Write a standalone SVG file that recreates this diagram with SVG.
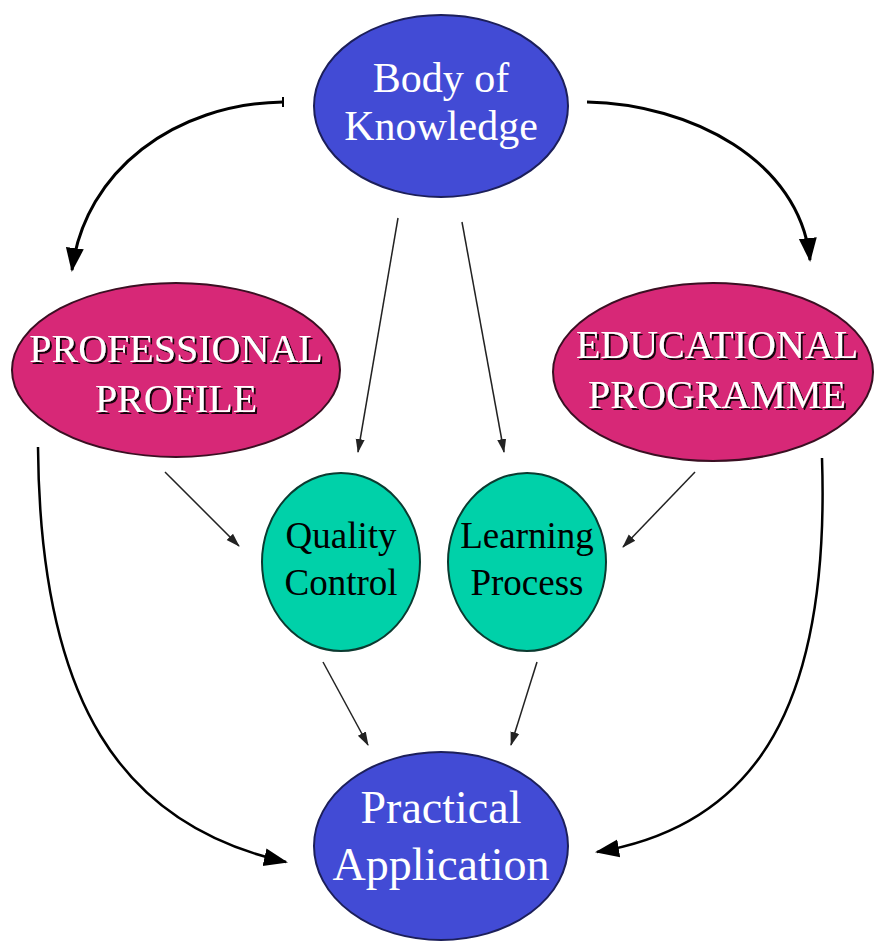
<svg xmlns="http://www.w3.org/2000/svg" width="874" height="943" viewBox="0 0 874 943">
<style>
.blue{fill:#424bd5;stroke:#1c1f5a;stroke-width:2}
.pink{fill:#d72877;stroke:#3a0f22;stroke-width:2}
.teal{fill:#00d1a9;stroke:#0b3a30;stroke-width:2}
.wt{font-family:"Liberation Serif",serif;fill:#ffffff;text-anchor:middle}
.bt{font-family:"Liberation Serif",serif;fill:#000000;text-anchor:middle}
.thick{fill:none;stroke:#000;stroke-width:3}
.thin{fill:none;stroke:#222;stroke-width:1.5}
</style>
<defs>
<marker id="big" markerUnits="userSpaceOnUse" markerWidth="24" markerHeight="24" viewBox="0 0 24 24" refX="22" refY="12" orient="auto">
<path d="M0,3 L24,12 L0,21 Z" fill="#000"/>
</marker>
<marker id="small" markerUnits="userSpaceOnUse" markerWidth="14" markerHeight="12" viewBox="0 0 14 12" refX="13" refY="6" orient="auto">
<path d="M0,1.5 L14,6 L0,10.5 Z" fill="#222"/>
</marker>
<filter id="sh" x="-10%" y="-20%" width="120%" height="140%">
<feDropShadow dx="2" dy="2" stdDeviation="0.4" flood-color="#000" flood-opacity="0.9"/>
</filter>
</defs>
<g id="connectors">
<path class="thick" d="M283,102 C175,104 85,170 72,270" marker-end="url(#big)"/>
<path d="M283,97 L283,107" stroke="#000" stroke-width="2"/>
<path class="thick" d="M587,102 C690,104 800,160 810,260" marker-end="url(#big)"/>
<path class="thin" d="M398,218 L358,452" marker-end="url(#small)"/>
<path class="thin" d="M462,222 L504,452" marker-end="url(#small)"/>
<path class="thin" d="M165,472 L239,546" marker-end="url(#small)"/>
<path class="thin" d="M695,472 L623,547" marker-end="url(#small)"/>
<path class="thin" d="M323,662 L368,745" marker-end="url(#small)"/>
<path class="thin" d="M537,662 L511,745" marker-end="url(#small)"/>
<path class="thick" style="stroke-width:2.5" d="M38,447 C40,700 120,825 286,862" marker-end="url(#big)"/>
<path class="thick" style="stroke-width:2.5" d="M822,458 C830,700 760,825 597,852" marker-end="url(#big)"/>
</g>
<g id="body-of-knowledge">
<ellipse class="blue" cx="441" cy="106" rx="127" ry="91"/>
<text class="wt" x="441" y="92" font-size="42">Body of</text>
<text class="wt" x="441" y="140" font-size="42">Knowledge</text>
</g>
<g id="professional-profile">
<ellipse class="pink" cx="176" cy="370" rx="164" ry="87"/>
<g filter="url(#sh)">
<text class="wt" x="176" y="362" font-size="40">PROFESSIONAL</text>
<text class="wt" x="176" y="412" font-size="40">PROFILE</text>
</g>
</g>
<g id="educational-programme">
<ellipse class="pink" cx="713" cy="372" rx="160" ry="89"/>
<g filter="url(#sh)">
<text class="wt" x="717" y="358" font-size="40">EDUCATIONAL</text>
<text class="wt" x="717" y="408" font-size="40">PROGRAMME</text>
</g>
</g>
<g id="quality-control">
<ellipse class="teal" cx="341" cy="562" rx="79" ry="89"/>
<text class="bt" x="341" y="548" font-size="37">Quality</text>
<text class="bt" x="341" y="595" font-size="37">Control</text>
</g>
<g id="learning-process">
<ellipse class="teal" cx="527" cy="562" rx="79" ry="89"/>
<text class="bt" x="527" y="548" font-size="37">Learning</text>
<text class="bt" x="527" y="595" font-size="37">Process</text>
</g>
<g id="practical-application">
<ellipse class="blue" cx="441" cy="846" rx="127" ry="94"/>
<text class="wt" x="441" y="823" font-size="46">Practical</text>
<text class="wt" x="441" y="880" font-size="46">Application</text>
</g>
</svg>
